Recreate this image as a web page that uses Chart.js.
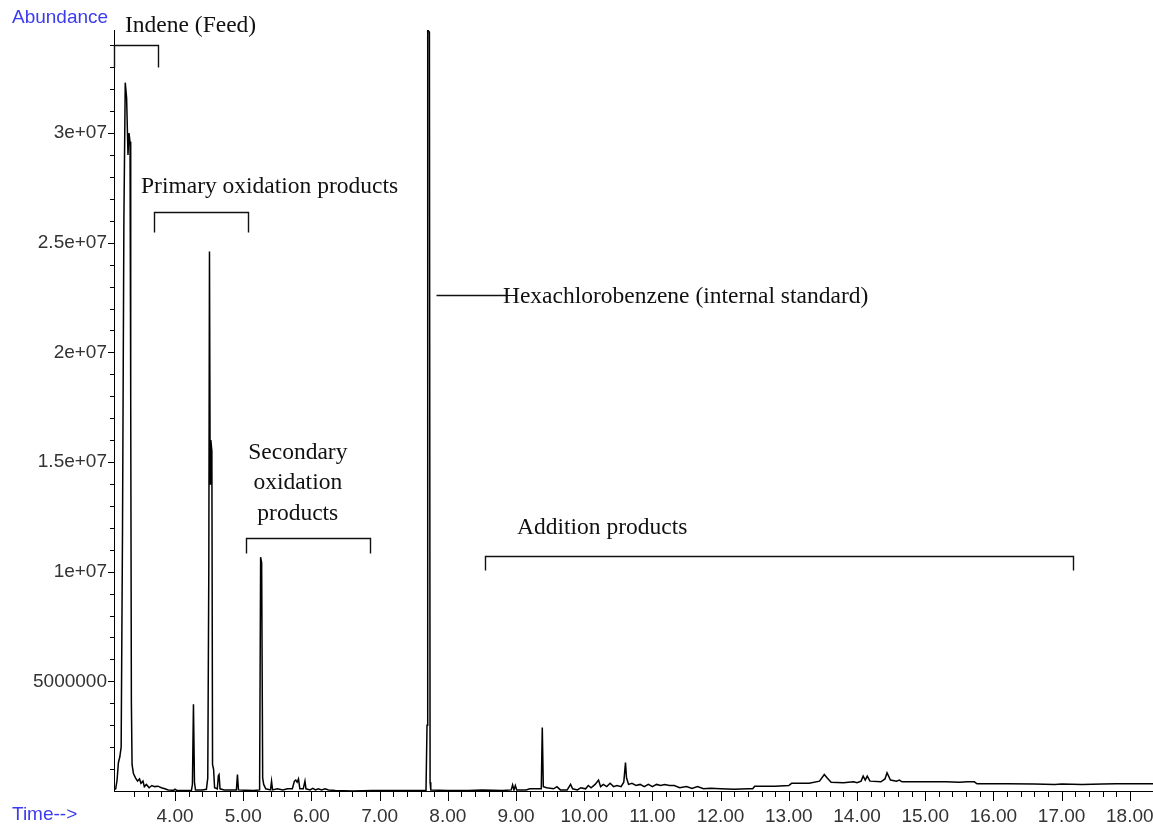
<!DOCTYPE html>
<html>
<head>
<meta charset="utf-8">
<script src="https://cdn.jsdelivr.net/npm/chart.js@4.4.1/dist/chart.umd.min.js"></script>
<style>
  html, body { margin: 0; padding: 0; background: #fff; }
  #wrap { width: 1153px; height: 826px; position: relative; }
</style>
</head>
<body>
<div id="wrap"><canvas id="chromatogram"></canvas></div>
<script>
// retention time (min) / abundance (millions of counts)
var retentionTimes = [
  3.105, 3.13, 3.15, 3.17, 3.19, 3.21, 3.23, 3.25, 3.27, 3.29, 3.31, 3.325, 3.34, 3.35, 3.36, 3.37,
  3.39, 3.42, 3.45, 3.48, 3.50, 3.53, 3.55, 3.58, 3.62, 3.66, 3.70, 3.75, 3.80, 3.85, 3.90, 3.98,
  4.00, 4.03, 4.10, 4.24, 4.255, 4.27, 4.285, 4.30, 4.40, 4.46, 4.48, 4.495, 4.505, 4.515, 4.525, 4.54,
  4.55, 4.565, 4.58, 4.62, 4.635, 4.645, 4.66, 4.72, 4.80, 4.90, 4.915, 4.93, 5.05, 5.15, 5.24, 5.255,
  5.27, 5.285, 5.30, 5.33, 5.40, 5.415, 5.43, 5.50, 5.58, 5.65, 5.72, 5.75, 5.77, 5.79, 5.81, 5.83,
  5.88, 5.905, 5.92, 5.98, 6.02, 6.06, 6.10, 6.15, 6.20, 6.25, 6.35, 6.60, 6.90, 7.20, 7.50, 7.68,
  7.695, 7.705, 7.73, 7.74, 7.75, 8.00, 8.30, 8.50, 8.80, 8.93, 8.95, 8.97, 8.99, 9.01, 9.15, 9.20,
  9.37, 9.385, 9.40, 9.45, 9.55, 9.60, 9.65, 9.75, 9.80, 9.83, 9.90, 9.95, 10.02, 10.06, 10.10, 10.16,
  10.21, 10.24, 10.28, 10.33, 10.38, 10.43, 10.48, 10.54, 10.58, 10.605, 10.62, 10.65, 10.70, 10.76, 10.82, 10.88,
  10.94, 11.00, 11.06, 11.12, 11.18, 11.25, 11.32, 11.40, 11.50, 11.58, 11.66, 11.75, 11.85, 12.00, 12.20, 12.40,
  12.47, 12.50, 12.80, 13.00, 13.04, 13.30, 13.45, 13.52, 13.56, 13.62, 13.80, 13.95, 14.00, 14.06, 14.09, 14.12,
  14.15, 14.19, 14.35, 14.41, 14.44, 14.49, 14.58, 14.62, 14.66, 15.00, 15.30, 15.50, 15.62, 15.72, 15.76, 16.20,
  16.60, 16.90, 17.00, 17.30, 17.60, 17.80, 18.10, 18.34
];
var abundanceMillions = [
  0.05, 0.10, 0.5, 1.3, 1.55, 2.0, 12, 26, 32.3, 31.6, 29.0, 30.0, 29.6, 18, 4, 1.2,
  0.8, 0.6, 0.45, 0.55, 0.35, 0.45, 0.2, 0.3, 0.15, 0.25, 0.2, 0.22, 0.15, 0.1, 0.05, 0.03,
  0.08, 0.02, 0.02, 0.02, 0.3, 3.96, 0.4, 0.05, 0.05, 0.08, 0.6, 10, 24.6, 14, 16.0, 15.5,
  1.2, 1.0, 0.15, 0.1, 0.7, 0.75, 0.1, 0.05, 0.05, 0.05, 0.75, 0.05, 0.03, 0.02, 0.05, 10.66,
  10.4, 0.6, 0.3, 0.1, 0.05, 0.45, 0.05, 0.1, 0.05, 0.1, 0.1, 0.45, 0.5, 0.4, 0.55, 0.1,
  0.1, 0.45, 0.1, 0.05, 0.12, 0.05, 0.1, 0.05, 0.1, 0.05, 0.02, 0.0, 0.02, 0.02, 0.02, 0.02,
  3, 34.7, 34.6, 0.4, 0.05, 0.02, 0.02, 0.05, 0.02, 0.05, 0.28, 0.05, 0.25, 0.05, 0.05, 0.1,
  0.1, 2.9, 0.2, 0.15, 0.1, 0.2, 0.05, 0.05, 0.3, 0.1, 0.05, 0.15, 0.1, 0.25, 0.15, 0.3,
  0.5, 0.2, 0.3, 0.2, 0.35, 0.2, 0.25, 0.2, 0.4, 1.3, 0.6, 0.3, 0.35, 0.25, 0.3, 0.2,
  0.3, 0.2, 0.3, 0.25, 0.3, 0.25, 0.25, 0.15, 0.2, 0.12, 0.2, 0.1, 0.12, 0.1, 0.08, 0.1,
  0.1, 0.22, 0.22, 0.25, 0.35, 0.35, 0.45, 0.75, 0.6, 0.4, 0.38, 0.42, 0.38, 0.45, 0.68, 0.5,
  0.68, 0.45, 0.42, 0.55, 0.83, 0.5, 0.45, 0.5, 0.42, 0.42, 0.42, 0.40, 0.42, 0.42, 0.33, 0.33,
  0.32, 0.3, 0.32, 0.3, 0.32, 0.33, 0.33, 0.33
];

// region labels (time in min, abundance in millions)
var regionLabels = [
  { text: 'Indene (Feed)', t: 3.267, v: 34.9, align: 'left' },
  { text: 'Primary oxidation products', t: 3.501, v: 27.56, align: 'left' },
  { text: 'Secondary', t: 5.80, v: 15.44, align: 'center' },
  { text: 'oxidation', t: 5.80, v: 14.03, align: 'center' },
  { text: 'products', t: 5.80, v: 12.62, align: 'center' },
  { text: 'Hexachlorobenzene (internal standard)', t: 8.808, v: 22.55, align: 'left' },
  { text: 'Addition products', t: 9.014, v: 11.98, align: 'left' }
];
var regionBrackets = [
  { from: 3.105, to: 3.75, at: 34.0, drop: 33.0 },
  { from: 3.692, to: 5.07, at: 26.42, drop: 25.51 },
  { from: 5.041, to: 6.859, at: 11.53, drop: 10.84 },
  { from: 8.545, to: 17.166, at: 10.71, drop: 10.07 }
];
var standardPointer = { from: 7.826, to: 8.85, at: 22.6 };

var points = retentionTimes.map(function(t, i) {
  return { x: t, y: abundanceMillions[i] * 1e6 };
});

var axisTicks = {
  id: 'axisTicks',
  afterDraw: function(chart) {
    var ctx = chart.ctx;
    var xs = chart.scales.x, ys = chart.scales.y;
    ctx.save();
    ctx.strokeStyle = '#000';
    ctx.lineWidth = 1;
    ctx.beginPath();
    xs.ticks.forEach(function(tk) {
      var k = Math.round(tk.value * 5);
      if (Math.abs(tk.value * 5 - k) > 1e-6) return;
      var px = Math.round(xs.getPixelForValue(tk.value)) + 0.5;
      var len = (k % 5 == 0) ? 10 : 6;
      ctx.moveTo(px, xs.top);
      ctx.lineTo(px, xs.top + len);
    });
    ys.ticks.forEach(function(tk) {
      var k = Math.round(tk.value / 1e6);
      if (k == 0) return;
      var py = Math.round(ys.getPixelForValue(tk.value)) + 0.5;
      var len = (k % 5 == 0) ? 6 : 4;
      ctx.moveTo(ys.right, py);
      ctx.lineTo(ys.right - len, py);
    });
    ctx.stroke();
    ctx.restore();
  }
};

var regionNotes = {
  id: 'regionNotes',
  afterDraw: function(chart) {
    var ctx = chart.ctx;
    var xs = chart.scales.x, ys = chart.scales.y;
    function px(t) { return Math.round(xs.getPixelForValue(t)) + 0.5; }
    function py(v) { return Math.round(ys.getPixelForValue(v * 1e6)) + 0.5; }
    ctx.save();
    ctx.strokeStyle = '#111';
    ctx.lineWidth = 1.4;
    regionBrackets.forEach(function(b) {
      ctx.beginPath();
      ctx.moveTo(px(b.from), py(b.drop));
      ctx.lineTo(px(b.from), py(b.at));
      ctx.lineTo(px(b.to), py(b.at));
      ctx.lineTo(px(b.to), py(b.drop));
      ctx.stroke();
    });
    ctx.beginPath();
    ctx.moveTo(px(standardPointer.from), py(standardPointer.at));
    ctx.lineTo(px(standardPointer.to), py(standardPointer.at));
    ctx.stroke();

    ctx.fillStyle = '#111';
    ctx.font = '23.5px "Liberation Serif", "Times New Roman", serif';
    ctx.textBaseline = 'middle';
    regionLabels.forEach(function(l) {
      ctx.textAlign = l.align;
      ctx.fillText(l.text, xs.getPixelForValue(l.t), ys.getPixelForValue(l.v * 1e6));
    });

    // axis captions of the instrument printout
    ctx.fillStyle = '#3b3bf0';
    ctx.font = '19px "Liberation Sans", Arial, sans-serif';
    ctx.textAlign = 'left';
    ctx.fillText('Abundance', 12, 18);
    ctx.fillText('Time-->', 12, 815);
    ctx.restore();
  }
};

new Chart(document.getElementById('chromatogram'), {
  type: 'line',
  data: {
    datasets: [{
      label: 'TIC',
      data: points,
      borderColor: '#000',
      borderWidth: 1.5,
      pointRadius: 0,
      tension: 0,
      fill: false
    }]
  },
  options: {
    responsive: true,
    maintainAspectRatio: false,
    animation: false,
    layout: { padding: { top: 30, right: 0, bottom: 0, left: 0 } },
    plugins: {
      legend: { display: false },
      tooltip: { enabled: false }
    },
    scales: {
      x: {
        type: 'linear',
        min: 3.105,
        max: 18.34,
        grid: { display: false, drawTicks: false },
        border: { display: true, color: '#000', width: 1 },
        ticks: {
          stepSize: 0.2,
          autoSkip: false,
          maxRotation: 0,
          padding: 14,
          color: '#333',
          font: { family: '"Liberation Sans", Arial, sans-serif', size: 19 },
          callback: function(v) {
            return Math.abs(v - Math.round(v)) < 1e-6 ? Number(v).toFixed(2) : '';
          }
        },
        afterFit: function(scale) {
          scale.height = 35;
          scale.paddingLeft = 0;
          scale.paddingRight = 0;
        }
      },
      y: {
        min: 0,
        max: 3.47e7,
        grid: { display: false, drawTicks: false },
        border: { display: true, color: '#000', width: 1 },
        // one tick per million counts, labels every five million
        afterBuildTicks: function(scale) {
          var list = [];
          for (var k = 0; k * 1e6 <= scale.max; k++) list.push({ value: k * 1e6 });
          scale.ticks = list;
        },
        ticks: {
          autoSkip: false,
          padding: 7,
          color: '#333',
          font: { family: '"Liberation Sans", Arial, sans-serif', size: 19 },
          callback: function(v) {
            var k = Math.round(v / 1e6);
            if (k == 0 || k % 5 != 0) return '';
            if (k < 10) return String(k * 1000000);
            return (k / 10) + 'e+07';
          }
        },
        afterFit: function(scale) { scale.width = 114; }
      }
    }
  },
  plugins: [axisTicks, regionNotes]
});
</script>
</body>
</html>
